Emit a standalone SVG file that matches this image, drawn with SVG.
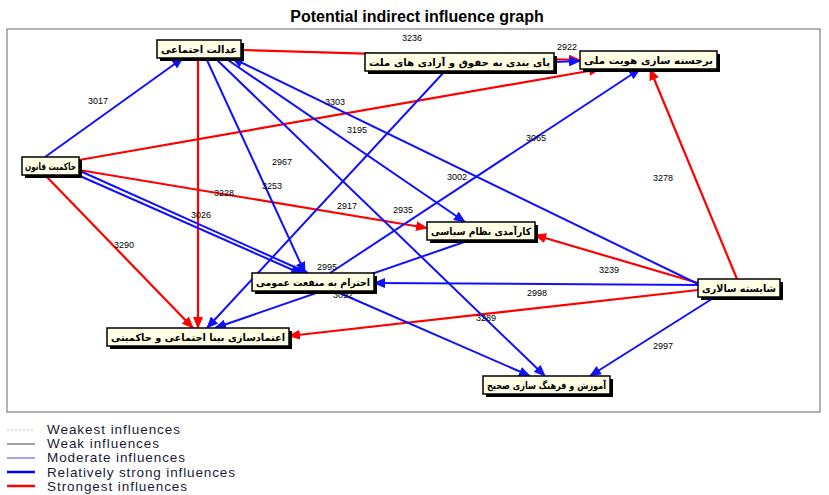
<svg xmlns="http://www.w3.org/2000/svg" width="829" height="495" viewBox="0 0 829 495">
<style>
.title{font-family:"Liberation Sans",Arial,sans-serif;font-size:16px;font-weight:bold;fill:#000}
.frame{fill:none;stroke:#666;stroke-width:1}
.red{stroke:#ff0000;stroke-width:2.2;fill:none;marker-end:url(#ar)}
.blue{stroke:#1010ff;stroke-width:2;fill:none;marker-end:url(#ab)}
.box{fill:#ffffe6;stroke:#000;stroke-width:1.5}
.shadow{fill:#000}
.nt{font-family:"DejaVu Sans","Noto Sans",sans-serif;font-size:10px;font-weight:bold;fill:#000}
.lbl{font-family:"Liberation Sans",Arial,sans-serif;font-size:9px;fill:#000}
.leg{font-family:"Liberation Sans",Arial,sans-serif;font-size:13.5px;fill:#1a1a33}
</style>
<defs>
<marker id="ar" markerUnits="userSpaceOnUse" markerWidth="12" markerHeight="10" refX="11" refY="5" orient="auto"><path d="M0,0 L12,5 L0,10 z" fill="#ff0000"/></marker>
<marker id="ab" markerUnits="userSpaceOnUse" markerWidth="12" markerHeight="10" refX="11" refY="5" orient="auto"><path d="M0,0 L12,5 L0,10 z" fill="#1010ff"/></marker>
</defs>
<rect width="829" height="495" fill="#fff"/>
<text class="title" x="417" y="22" text-anchor="middle">Potential indirect influence graph</text>
<rect class="frame" x="7" y="29" width="813" height="383"/>

<g id="connectors">
<line class="red" x1="241" y1="50" x2="580" y2="60"/>
<line class="red" x1="79" y1="160" x2="600" y2="69"/>
<line class="red" x1="79" y1="170" x2="427" y2="228"/>
<line class="red" x1="45" y1="175" x2="193" y2="328"/>
<line class="red" x1="198" y1="58" x2="198" y2="328"/>
<line class="red" x1="737" y1="279" x2="650" y2="69"/>
<line class="red" x1="698" y1="283" x2="535" y2="235"/>
<line class="red" x1="698" y1="290" x2="289" y2="336"/>
<line class="blue" x1="554" y1="62" x2="580" y2="61"/>
<line class="blue" x1="45" y1="157" x2="183" y2="58"/>
<line class="blue" x1="80" y1="171" x2="308" y2="273"/>
<line class="blue" x1="80" y1="176" x2="302" y2="274"/>
<line class="blue" x1="206" y1="58" x2="305" y2="273"/>
<line class="blue" x1="215" y1="58" x2="545" y2="376"/>
<line class="blue" x1="225" y1="58" x2="465" y2="222"/>
<line class="blue" x1="698" y1="284" x2="232" y2="58"/>
<line class="blue" x1="445" y1="71" x2="207" y2="328"/>
<line class="blue" x1="330" y1="273" x2="640" y2="69"/>
<line class="blue" x1="470" y1="240" x2="215" y2="328"/>
<line class="blue" x1="698" y1="285" x2="374" y2="283"/>
<line class="blue" x1="715" y1="297" x2="590" y2="376"/>
<line class="blue" x1="335" y1="291" x2="530" y2="376"/>
<g class="lbl" text-anchor="middle">
<text x="412" y="41">3236</text>
<text x="567" y="50">2922</text>
<text x="98" y="104">3017</text>
<text x="335" y="105">3303</text>
<text x="357" y="133">3195</text>
<text x="536" y="141">3065</text>
<text x="282" y="165">2967</text>
<text x="457" y="180">3002</text>
<text x="663" y="181">3278</text>
<text x="272" y="189">3253</text>
<text x="224" y="196">3228</text>
<text x="347" y="209">2917</text>
<text x="403" y="213">2935</text>
<text x="201" y="218">3026</text>
<text x="124" y="248">3290</text>
<text x="327" y="270">2995</text>
<text x="609" y="273">3239</text>
<text x="537" y="296">2998</text>
<text x="343" y="298">3092</text>
<text x="486" y="321">3289</text>
<text x="663" y="349">2997</text>
</g>
</g>

<g id="n2"><rect class="shadow" x="368" y="56" width="189" height="18"/><rect class="box" x="365" y="53" width="189" height="18"/><text class="nt" x="459.5" y="66" text-anchor="middle" textLength="181" lengthAdjust="spacingAndGlyphs">پای بندی به حقوق و آزادی های ملت</text></g>
<g id="n1"><rect class="shadow" x="160" y="43" width="84" height="18"/><rect class="box" x="157" y="40" width="84" height="18"/><text class="nt" x="199" y="53" text-anchor="middle" textLength="76" lengthAdjust="spacingAndGlyphs">عدالت اجتماعی</text></g>
<g id="n3"><rect class="shadow" x="583" y="54" width="137" height="18"/><rect class="box" x="580" y="51" width="137" height="18"/><text class="nt" x="648.5" y="64" text-anchor="middle" textLength="129" lengthAdjust="spacingAndGlyphs">برجسته سازی هویت ملی</text></g>
<g id="n4"><rect class="shadow" x="25" y="160" width="57" height="18"/><rect class="box" x="22" y="157" width="57" height="18"/><text class="nt" x="50.5" y="170" text-anchor="middle" textLength="51" lengthAdjust="spacingAndGlyphs">حاکمیت قانون</text></g>
<g id="n5"><rect class="shadow" x="430" y="225" width="108" height="18"/><rect class="box" x="427" y="222" width="108" height="18"/><text class="nt" x="481" y="235" text-anchor="middle" textLength="100" lengthAdjust="spacingAndGlyphs">کارآمدی نظام سیاسی</text></g>
<g id="n6"><rect class="shadow" x="255" y="276" width="122" height="18"/><rect class="box" x="252" y="273" width="122" height="18"/><text class="nt" x="313" y="286" text-anchor="middle" textLength="114" lengthAdjust="spacingAndGlyphs">احترام به منفعت عمومی</text></g>
<g id="n7"><rect class="shadow" x="110" y="331" width="182" height="18"/><rect class="box" x="107" y="328" width="182" height="18"/><text class="nt" x="198" y="341" text-anchor="middle" textLength="174" lengthAdjust="spacingAndGlyphs">اعتمادسازی بینا اجتماعی و حاکمیتی</text></g>
<g id="n8"><rect class="shadow" x="701" y="282" width="82" height="18"/><rect class="box" x="698" y="279" width="82" height="18"/><text class="nt" x="739" y="292" text-anchor="middle" textLength="74" lengthAdjust="spacingAndGlyphs">شایسته سالاری</text></g>
<g id="n9"><rect class="shadow" x="486" y="379" width="127" height="18"/><rect class="box" x="483" y="376" width="127" height="18"/><text class="nt" x="546.5" y="389" text-anchor="middle" textLength="119" lengthAdjust="spacingAndGlyphs">آموزش و فرهنگ سازی صحیح</text></g>

<g id="legend">
<line x1="7" y1="430" x2="35" y2="430" stroke="#d8d8d8" stroke-width="1.5" stroke-dasharray="2,2"/>
<line x1="7" y1="444" x2="35" y2="444" stroke="#808080" stroke-width="1.5"/>
<line x1="7" y1="458" x2="35" y2="458" stroke="#8080ff" stroke-width="1.5"/>
<line x1="7" y1="472" x2="35" y2="472" stroke="#0000ff" stroke-width="2.5"/>
<line x1="7" y1="486" x2="35" y2="486" stroke="#ff0000" stroke-width="2.5"/>
<text class="leg" x="47" y="434" textLength="133" lengthAdjust="spacing">Weakest influences</text>
<text class="leg" x="47" y="448" textLength="112" lengthAdjust="spacing">Weak influences</text>
<text class="leg" x="47" y="462" textLength="138" lengthAdjust="spacing">Moderate influences</text>
<text class="leg" x="47" y="477" textLength="188" lengthAdjust="spacing">Relatively strong influences</text>
<text class="leg" x="47" y="491" textLength="140" lengthAdjust="spacing">Strongest influences</text>
</g>
</svg>
